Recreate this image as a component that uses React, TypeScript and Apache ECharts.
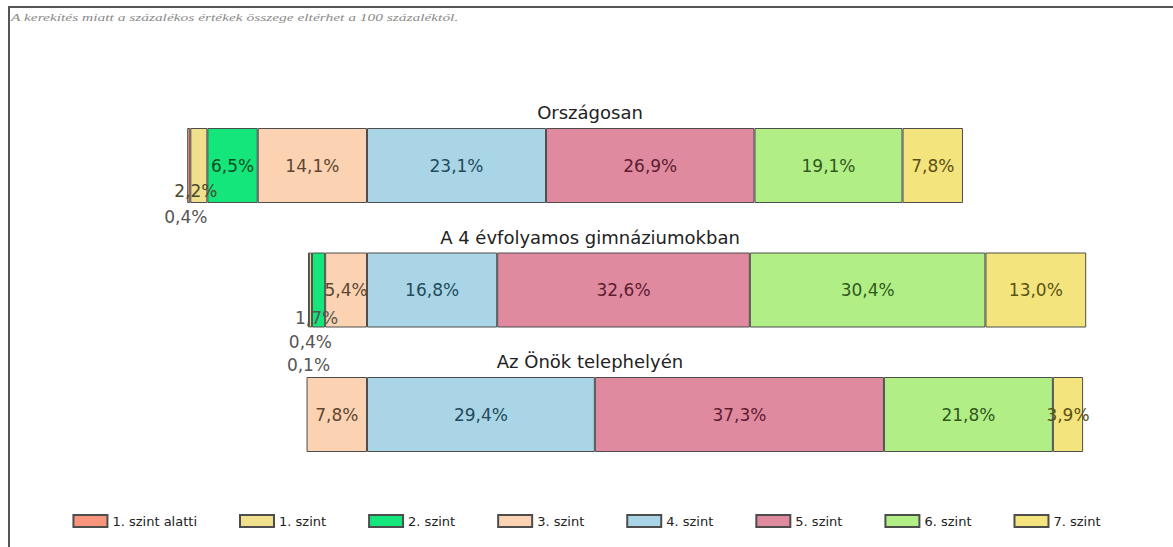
import React, { useEffect, useRef } from 'react';
import * as echarts from 'echarts';

const categories = ['Országosan', 'A 4 évfolyamos gimnáziumokban', 'Az Önök telephelyén'];
const levelNames = ['1. szint alatti', '1. szint', '2. szint', '3. szint', '4. szint', '5. szint', '6. szint', '7. szint'];
const belowLevel1 = [0.4, 0.1, 0];
const level1 = [2.2, 0.4, 0];
const level2 = [6.5, 1.7, 0];
const level3 = [14.1, 5.4, 7.8];
const level4 = [23.1, 16.8, 29.4];
const level5 = [26.9, 32.6, 37.3];
const level6 = [19.1, 30.4, 21.8];
const level7 = [7.8, 13.0, 3.9];
const subtitle = 'A kerekítés miatt a százalékos értékek összege eltérhet a 100 százaléktól.';

const levelValues = [belowLevel1, level1, level2, level3, level4, level5, level6, level7];
const fills = ['#F7967C', '#F0DF8C', '#14E67B', '#FBD3B2', '#A9D5E6', '#E08AA0', '#B2EE86', '#F4E47E'];
const labelColors = ['#555555', '#4a4a30', '#0b4d24', '#5e4632', '#234b5c', '#5c1c30', '#2f5a1c', '#5a5214'];
const leftSide = [true, true, true, true, false, false, false, false];
const stackOrder = [3, 2, 1, 0, 4, 5, 6, 7];
const smallLabelOffsets: Record<string, [number, number]> = {
  '0-0': [-3, 51],
  '1-0': [-3, 25],
  '0-1': [0, 75],
  '1-1': [0, 52],
  '2-1': [-2, 28],
};

const FONT = 'DejaVu Sans';

export default function App() {
  const ref = useRef<HTMLDivElement>(null);
  useEffect(() => {
    if (!ref.current) return;
    const chart = echarts.init(ref.current, null, { renderer: 'svg' });
    const series = stackOrder.map((li) => ({
      name: levelNames[li],
      type: 'bar',
      stack: 'total',
      barWidth: 75,
      itemStyle: { color: fills[li], borderColor: '#4d4d4d', borderWidth: 1 },
      label: {
        show: true,
        position: 'inside',
        color: labelColors[li],
        fontFamily: FONT,
        fontSize: 17,
        formatter: (p: any) => Math.abs(p.value).toFixed(1).replace('.', ',') + '%',
      },
      data: levelValues[li].map((v, ci) => {
        if (!v) return null;
        const off = smallLabelOffsets[li + '-' + ci];
        const item: any = { value: leftSide[li] ? -v : v };
        if (off) item.label = { offset: off, color: li === 0 || ci === 1 ? '#555555' : '#4a4a30' };
        return item;
      }),
    }));
    chart.setOption({
      animation: false,
      grid: { left: 134.5, width: 1007.5, top: 103.25, height: 373.5 },
      xAxis: { type: 'value', min: -30, max: 100, show: false },
      yAxis: { type: 'category', data: categories, inverse: true, show: false },
      legend: {
        data: levelNames,
        icon: 'rect',
        left: 'center',
        top: 509,
        itemWidth: 34,
        itemHeight: 12,
        itemGap: 42,
        textStyle: { fontFamily: FONT, fontSize: 13, color: '#222' },
      },
      series,
    });
    const ctx = document.createElement('canvas').getContext('2d')!;
    ctx.font = 'italic 11px "Liberation Serif"';
    const w = ctx.measureText(subtitle).width || 1;
    const titles = categories.map((c) => {
      const y = chart.convertToPixel({ yAxisIndex: 0 }, c) as number;
      return {
        type: 'text',
        x: 590,
        y: y - 53,
        style: {
          text: c,
          fontFamily: FONT,
          fontSize: 18,
          fill: '#222',
          align: 'center',
          verticalAlign: 'middle',
        },
      };
    });
    chart.setOption({
      graphic: [
        { type: 'line', shape: { x1: 8, y1: 7, x2: 1173, y2: 7 }, style: { stroke: '#555', lineWidth: 2 } },
        { type: 'line', shape: { x1: 9, y1: 7, x2: 9, y2: 547 }, style: { stroke: '#555', lineWidth: 2 } },
        {
          type: 'text',
          x: 11,
          y: 12,
          scaleX: 448 / w,
          style: {
            text: subtitle,
            fontFamily: 'Liberation Serif',
            fontStyle: 'italic',
            fontSize: 11,
            fill: '#8a8a8a',
          },
        },
        ...titles,
      ],
    });
    return () => chart.dispose();
  }, []);
  return <div ref={ref} style={{ position: 'absolute', left: 0, top: 0, width: 1173, height: 547 }} />;
}
